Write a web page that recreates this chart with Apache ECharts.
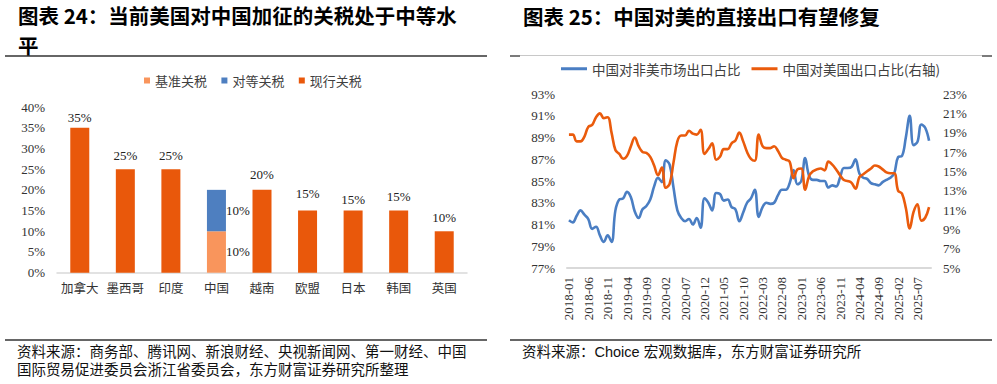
<!DOCTYPE html>
<html><head><meta charset="utf-8">
<script src="https://cdn.jsdelivr.net/npm/echarts@6/dist/echarts.min.js"></script>
<style>html,body{margin:0;padding:0;background:#fff}#c{width:997px;height:384px}</style>
</head><body><div id="c"></div>
<script>
// ---------- Chart 24 data ----------
const barCategories = ['加拿大','墨西哥','印度','中国','越南','欧盟','日本','韩国','英国'];
const baseTariff       = [null,null,null,10,null,null,null,null,null];
const reciprocalTariff = [null,null,null,10,null,null,null,null,null];
const currentTariff    = [35,25,25,null,20,15,15,15,10];
const barTicks = [0,5,10,15,20,25,30,35,40];

// ---------- Chart 25 data ----------
const monthStart = [2018, 1];
const monthCount = 94; // 2018-01 .. 2025-10
const nonUsShare = [
 81.4,81.2,81.8,82.3,81.9,81.5,80.6,80.8,80.0,79.4,
 80.0,79.4,82.3,83.3,83.4,84.0,83.5,82.2,81.6,82.4,
 82.7,83.3,84.5,85.3,84.9,86.9,86.5,84.4,82.3,81.6,
 81.3,81.5,81.0,81.6,80.7,83.4,83.0,82.3,83.9,83.8,
 83.2,83.3,82.6,82.4,81.3,82.1,83.0,83.4,84.2,81.7,
 82.6,83.0,82.9,83.0,83.7,84.2,84.2,84.8,86.0,84.7,
 85.0,87.1,85.5,85.1,85.1,85.0,85.0,84.4,84.6,84.5,
 85.3,86.2,86.2,86.3,87.0,85.7,85.3,85.2,84.8,84.7,
 84.6,84.9,85.1,85.3,85.7,87.2,87.3,89.0,91.0,88.3,
 88.6,90.2,89.9,88.7];
const usShare = [
 18.8,18.8,18.1,18.1,18.6,19.6,19.8,20.6,21.0,20.5,
 20.6,19.0,17.2,16.8,16.3,16.6,17.6,18.5,17.6,17.0,
 16.9,16.5,15.6,14.6,15.4,13.3,13.7,15.9,18.1,18.7,
 18.7,19.2,18.9,18.8,19.3,16.8,17.3,17.9,16.2,16.5,
 17.3,17.3,17.9,18.2,19.0,18.1,17.0,16.3,16.1,18.8,
 17.6,17.4,17.4,17.6,17.1,16.4,16.2,16.0,14.3,15.2,
 15.3,13.1,14.5,15.0,15.2,15.3,15.1,16.0,15.7,15.2,
 14.6,14.1,14.0,13.8,13.2,14.4,14.7,15.0,15.3,15.6,
 15.5,15.2,14.9,14.8,14.8,13.0,12.7,11.2,9.1,10.8,
 11.6,9.9,10.2,11.3];
const leftTicks  = [77,79,81,83,85,87,89,91,93];
const rightTicks = [5,7,9,11,13,15,17,19,21,23];

// month categories
const months = [];
for (let k = 0; k < monthCount; k++) {
  const t = (monthStart[0] * 12 + monthStart[1] - 1) + k;
  const y = Math.floor(t / 12), m = t % 12 + 1;
  months.push(y + '-' + (m < 10 ? '0' + m : m));
}

// ---------- styling ----------
const SERIF = "'Liberation Serif','Times New Roman','Noto Sans CJK SC',serif";
const CJK = "'Noto Sans CJK SC',sans-serif";
const SANS = "'Liberation Sans','Noto Sans CJK SC',sans-serif";
const C_ORANGE = '#E9580B', C_LIGHT = '#F9955C', C_BLUE = '#4E7FC0';
const C_LINE_BLUE = '#4A7EC3', C_LINE_ORANGE = '#EA5B0C';
const labelGap = [4, 7, 7, 0, 8.5, 11, 4.5, 8, 7.5];

const chart = echarts.init(document.getElementById('c'), null, {renderer: 'svg'});

const option = {
  backgroundColor: '#fff',
  animation: false,
  graphic: [
    {type:'text', left:18, top:4, style:{text:'图表 24：当前美国对中国加征的关税处于中等水', font:"bold 20.5px " + CJK, fill:'#000', lineHeight:22}},
    {type:'text', left:18, top:34, style:{text:'平', font:"bold 20.5px " + CJK, fill:'#000', lineHeight:22}},
    {type:'text', left:523, top:5, style:{text:'图表 25：中国对美的直接出口有望修复', font:"bold 20.5px " + CJK, fill:'#000', lineHeight:22}},
    {type:'line', shape:{x1:5, y1:56, x2:487, y2:56}, style:{stroke:'#333', lineWidth:1.3}},
    {type:'line', shape:{x1:520, y1:55.5, x2:982, y2:55.5}, style:{stroke:'#c8c8c8', lineWidth:1}},
    {type:'line', shape:{x1:510, y1:56, x2:520, y2:56}, style:{stroke:'#333', lineWidth:1.3}},
    {type:'line', shape:{x1:982, y1:56, x2:992, y2:56}, style:{stroke:'#333', lineWidth:1.3}},
    {type:'line', shape:{x1:5, y1:340, x2:487, y2:340}, style:{stroke:'#333', lineWidth:1.3}},
    {type:'line', shape:{x1:510, y1:340, x2:992, y2:340}, style:{stroke:'#333', lineWidth:1.3}},
    {type:'text', left:17, top:342.5, style:{text:'资料来源：商务部、腾讯网、新浪财经、央视新闻网、第一财经、中国\n国际贸易促进委员会浙江省委员会，东方财富证券研究所整理', font:"14.5px " + SANS, fill:'#111', lineHeight:18.3}},
    {type:'text', left:522, top:342.5, style:{text:'资料来源：Choice 宏观数据库，东方财富证券研究所', font:"14.5px " + SANS, fill:'#111', lineHeight:18.3}}
  ],
  legend: [
    {left:139, top:69, itemWidth:6, itemHeight:6, itemGap:14.4, icon:'rect',
     data:['基准关税','对等关税','现行关税'],
     textStyle:{fontFamily:CJK, fontSize:13, color:'#404040'}},
    {left:556, top:57, itemWidth:26, itemHeight:3, itemGap:11, icon:'rect',
     data:['中国对非美市场出口占比','中国对美国出口占比(右轴)'],
     textStyle:{fontFamily:CJK, fontSize:13.5, color:'#404040'}}
  ],
  grid: [
    {left:57, right:530, top:107, bottom:111.3, containLabel:false},
    {left:567, right:66, top:94, bottom:116, containLabel:false}
  ],
  xAxis: [
    {gridIndex:0, type:'category', data:barCategories,
     axisLine:{lineStyle:{color:'#d9d9d9', width:1.5}}, axisTick:{show:false},
     axisLabel:{interval:0, fontFamily:CJK, fontSize:12.5, color:'#333', margin:9}},
    {gridIndex:1, type:'category', data:months, boundaryGap:true,
     axisLine:{lineStyle:{color:'#d9d9d9', width:2}}, axisTick:{show:false},
     axisLabel:{interval:4, rotate:90, fontFamily:SERIF, fontSize:13, color:'#333', margin:9}}
  ],
  yAxis: [
    {gridIndex:0, type:'value', min:barTicks[0], max:barTicks[barTicks.length-1], interval:barTicks[1]-barTicks[0],
     axisLine:{show:false}, axisTick:{show:false}, splitLine:{show:false},
     axisLabel:{formatter:'{value}%', fontFamily:SERIF, fontSize:13, color:'#333', margin:12}},
    {gridIndex:1, type:'value', position:'left', min:leftTicks[0], max:leftTicks[leftTicks.length-1], interval:leftTicks[1]-leftTicks[0],
     axisLine:{show:false}, axisTick:{show:false}, splitLine:{show:false},
     axisLabel:{formatter:'{value}%', fontFamily:SERIF, fontSize:13, color:'#333', margin:12}},
    {gridIndex:1, type:'value', position:'right', min:rightTicks[0], max:rightTicks[rightTicks.length-1], interval:rightTicks[1]-rightTicks[0],
     axisLine:{show:false}, axisTick:{show:false}, splitLine:{show:false},
     axisLabel:{formatter:'{value}%', fontFamily:SERIF, fontSize:13, color:'#333', margin:12}}
  ],
  series: [
    {name:'基准关税', type:'bar', stack:'t', xAxisIndex:0, yAxisIndex:0, barWidth:19,
     itemStyle:{color:C_LIGHT}, data:baseTariff,
     label:{show:true, position:'right', distance:0, formatter:'{c}%', fontFamily:SERIF, fontSize:13, color:'#222'}},
    {name:'对等关税', type:'bar', stack:'t', xAxisIndex:0, yAxisIndex:0, barWidth:19,
     itemStyle:{color:C_BLUE}, data:reciprocalTariff,
     label:{show:true, position:'right', distance:0, formatter:'{c}%', fontFamily:SERIF, fontSize:13, color:'#222'}},
    {name:'现行关税', type:'bar', stack:'t', xAxisIndex:0, yAxisIndex:0, barWidth:19,
     itemStyle:{color:C_ORANGE},
     data:currentTariff.map((v,i)=> v==null ? null : {value:v, label:{distance:labelGap[i]}}),
     label:{show:true, position:'top', formatter:'{c}%', fontFamily:SERIF, fontSize:13, color:'#222'}},
    {name:'中国对非美市场出口占比', type:'line', xAxisIndex:1, yAxisIndex:1, data:nonUsShare,
     showSymbol:false, smooth:0.4, lineStyle:{color:C_LINE_BLUE, width:2.6}, itemStyle:{color:C_LINE_BLUE}},
    {name:'中国对美国出口占比(右轴)', type:'line', xAxisIndex:1, yAxisIndex:2, data:usShare,
     showSymbol:false, smooth:0.4, lineStyle:{color:C_LINE_ORANGE, width:2.6}, itemStyle:{color:C_LINE_ORANGE}}
  ]
};
chart.setOption(option);
</script>
</body></html>
